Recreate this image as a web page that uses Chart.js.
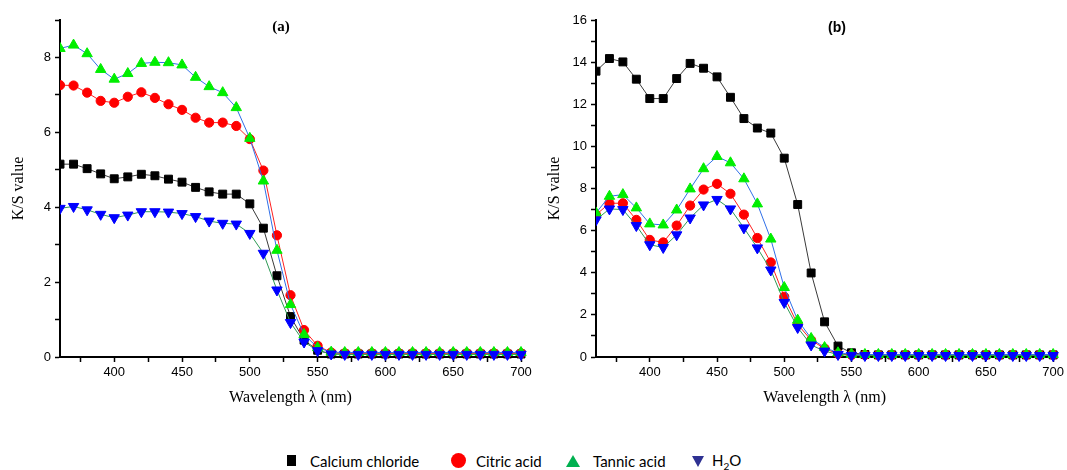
<!DOCTYPE html>
<html>
<head>
<meta charset="utf-8">
<script src="https://cdn.jsdelivr.net/npm/chart.js@4.4.1/dist/chart.umd.min.js"></script>
<style>
  body { margin: 0; background: #fff; width: 1067px; height: 470px; position: relative; overflow: hidden; }
  #boxA { position: absolute; left: 0; top: 0; width: 540px; height: 420px; }
  #boxB { position: absolute; left: 536px; top: 0; width: 531px; height: 420px; }
  .tag { position: absolute; font-weight: bold; font-size: 15px; color: #000; transform: translate(-50%, -50%); }
  .leg { position: absolute; top: 461px; transform: translateY(-50%); font-family: Lato, "Liberation Sans", sans-serif; font-size: 15px; color: #000; white-space: nowrap; }
  .sym { position: absolute; }
</style>
</head>
<body>
<div id="boxA"><canvas id="chartA"></canvas></div>
<div id="boxB"><canvas id="chartB"></canvas></div>
<div class="tag" style="left:281px;top:26px;font-family:'Liberation Serif',serif;">(a)</div>
<div class="tag" style="left:837px;top:27px;font-family:'Liberation Sans',sans-serif;font-size:14px;">(b)</div>

<!-- legend -->
<div class="sym" style="left:287px;top:455px;width:9px;height:11px;background:#000;"></div>
<div class="leg" style="left:310px;">Calcium chloride</div>
<div class="sym" style="left:451px;top:453px;width:15px;height:15px;border-radius:50%;background:#ff0000;"></div>
<div class="leg" style="left:476px;">Citric acid</div>
<div class="sym" style="left:566px;top:455px;width:0;height:0;border-left:7px solid transparent;border-right:7px solid transparent;border-bottom:12px solid #00b050;"></div>
<div class="leg" style="left:593px;">Tannic acid</div>
<div class="sym" style="left:692px;top:456px;width:0;height:0;border-left:6px solid transparent;border-right:6px solid transparent;border-top:11px solid #2e3192;"></div>
<div class="leg" style="left:712px;">H<sub style="font-size:10px;">2</sub>O</div>

<script>
// wavelength (nm)
const wavelengths = [360, 370, 380, 390, 400, 410, 420, 430, 440, 450, 460, 470, 480, 490, 500, 510, 520, 530, 540, 550,
  560, 570, 580, 590, 600, 610, 620, 630, 640, 650, 660, 670, 680, 690, 700];

// panel (a)
const calciumA = [5.15, 5.15, 5.03, 4.89, 4.76, 4.81, 4.88, 4.84, 4.75, 4.67, 4.53, 4.41, 4.35, 4.35, 4.09, 3.44, 2.17, 1.08, 0.45, 0.18,
  0.08, 0.08, 0.08, 0.08, 0.08, 0.08, 0.08, 0.08, 0.08, 0.08, 0.08, 0.08, 0.08, 0.08, 0.08];
const citricA = [7.26, 7.25, 7.06, 6.84, 6.79, 6.95, 7.07, 6.92, 6.75, 6.6, 6.39, 6.26, 6.26, 6.17, 5.82, 4.98, 3.25, 1.65, 0.72, 0.3,
  0.12, 0.1, 0.1, 0.1, 0.1, 0.1, 0.1, 0.1, 0.1, 0.1, 0.1, 0.1, 0.1, 0.1, 0.1];
const tannicA = [8.24, 8.33, 8.1, 7.68, 7.42, 7.57, 7.84, 7.87, 7.86, 7.8, 7.47, 7.22, 7.06, 6.66, 5.84, 4.7, 2.85, 1.4, 0.6, 0.25,
  0.13, 0.12, 0.12, 0.12, 0.12, 0.12, 0.12, 0.12, 0.12, 0.12, 0.12, 0.12, 0.12, 0.12, 0.12];
const waterA = [3.97, 4.02, 3.93, 3.81, 3.72, 3.79, 3.88, 3.88, 3.87, 3.83, 3.75, 3.63, 3.57, 3.55, 3.3, 2.77, 1.79, 0.92, 0.4, 0.17,
  0.08, 0.07, 0.07, 0.07, 0.07, 0.07, 0.07, 0.07, 0.07, 0.07, 0.07, 0.07, 0.07, 0.07, 0.07];

// panel (b)
const calciumB = [13.57, 14.17, 14.01, 13.19, 12.27, 12.27, 13.22, 13.94, 13.71, 13.3, 12.33, 11.32, 10.87, 10.63, 9.44, 7.24, 3.99, 1.67, 0.52, 0.2,
  0.12, 0.1, 0.1, 0.1, 0.1, 0.1, 0.1, 0.1, 0.1, 0.1, 0.1, 0.1, 0.1, 0.1, 0.1];
const citricB = [6.75, 7.3, 7.3, 6.51, 5.56, 5.44, 6.24, 7.19, 7.95, 8.22, 7.75, 6.76, 5.65, 4.49, 2.86, 1.55, 0.8, 0.4, 0.15, 0.1,
  0.1, 0.1, 0.1, 0.1, 0.1, 0.1, 0.1, 0.1, 0.1, 0.1, 0.1, 0.1, 0.1, 0.1, 0.1];
const tannicB = [6.84, 7.63, 7.71, 7.08, 6.32, 6.27, 6.98, 7.98, 8.94, 9.52, 9.22, 8.46, 7.27, 5.6, 3.3, 1.75, 0.88, 0.45, 0.2, 0.13,
  0.12, 0.12, 0.12, 0.12, 0.12, 0.12, 0.12, 0.12, 0.12, 0.12, 0.12, 0.12, 0.12, 0.12, 0.12];
const waterB = [6.51, 7.03, 7.0, 6.24, 5.33, 5.2, 5.8, 6.6, 7.22, 7.48, 7.03, 6.13, 5.18, 4.13, 2.59, 1.4, 0.57, 0.28, 0.12, 0.08,
  0.07, 0.07, 0.07, 0.07, 0.07, 0.07, 0.07, 0.07, 0.07, 0.07, 0.07, 0.07, 0.07, 0.07, 0.07];

// x tick positions (labels only every 50)
const xTicks = [375, 400, 425, 450, 475, 500, 525, 550, 575, 600, 625, 650, 675, 700];

function toPoints(vals) {
  return wavelengths.map((w, i) => ({ x: w, y: vals[i] }));
}

function makeSet(label, vals, lineColor, markColor, style, radius, rot, order) {
  return {
    label: label,
    data: toPoints(vals),
    borderColor: lineColor,
    borderWidth: 1,
    backgroundColor: markColor,
    pointBackgroundColor: markColor,
    pointBorderColor: markColor,
    pointBorderWidth: 1,
    pointStyle: style,
    pointRadius: radius,
    pointRotation: rot,
    tension: 0,
    order: order,
    clip: { left: 0, top: false, right: false, bottom: false },
  };
}

function makeChart(id, yMax, sets, padRight) {
  const ctx = document.getElementById(id).getContext("2d");
  return new Chart(ctx, {
    type: "line",
    data: {
      datasets: [
        makeSet("Calcium chloride", sets[0], "#3a3a3a", "#000000", "rect", 5.6, 0, 4),
        makeSet("Citric acid", sets[1], "#ff2020", "#ff0000", "circle", 4.6, 0, 3),
        makeSet("Tannic acid", sets[2], "#2f6fe8", "#00ee00", "triangle", 6, 0, 2),
        makeSet("H2O", sets[3], "#2e9a55", "#0000ff", "triangle", 6, 180, 1),
      ],
    },
    options: {
      responsive: true,
      maintainAspectRatio: false,
      animation: false,
      layout: { padding: { top: 20, right: padRight, left: 0, bottom: 0 } },
      plugins: { legend: { display: false }, tooltip: { enabled: false } },
      scales: {
        x: {
          type: "linear",
          min: 360,
          max: 700,
          afterBuildTicks: (s) => { s.ticks = xTicks.map((v) => ({ value: v })); },
          afterFit: (s) => { s.height = 63; },
          ticks: {
            autoSkip: false,
            maxRotation: 0,
            padding: 3,
            color: "#000",
            font: { family: "'Liberation Sans', Arial, sans-serif", size: 13 },
            callback: (v) => (v % 50 === 0 ? v : ""),
          },
          grid: { drawOnChartArea: false, drawTicks: true, tickLength: 5, tickColor: "#000", tickWidth: 1.5 },
          border: { color: "#000", width: 2 },
          title: {
            display: true,
            text: "Wavelength λ (nm)",
            color: "#000",
            font: { family: "'Liberation Serif', 'Times New Roman', serif", size: 16 },
            padding: { top: 13, bottom: 13 },
          },
        },
        y: {
          min: 0,
          max: yMax,
          afterFit: (s) => { s.width = 60; },
          ticks: {
            stepSize: 1,
            autoSkip: false,
            padding: 4,
            color: "#000",
            font: { family: "'Liberation Sans', Arial, sans-serif", size: 13 },
            callback: (v) => (v % 2 === 0 ? v : ""),
          },
          grid: { drawOnChartArea: false, drawTicks: true, tickLength: 5, tickColor: "#000", tickWidth: 1.5 },
          border: { color: "#000", width: 2 },
          title: {
            display: true,
            text: "K/S value",
            color: "#000",
            font: { family: "'Liberation Serif', 'Times New Roman', serif", size: 16 },
            padding: { top: 9, bottom: 9 },
          },
        },
      },
    },
  });
}

makeChart("chartA", 9, [calciumA, citricA, tannicA, waterA], 19);
makeChart("chartB", 16, [calciumB, citricB, tannicB, waterB], 12);
</script>
</body>
</html>
